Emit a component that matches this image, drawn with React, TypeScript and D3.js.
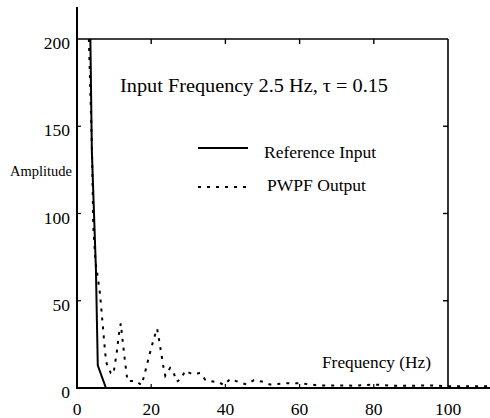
import React from "react";
import * as d3 from "d3";

const xTicks = [0, 20, 40, 60, 80, 100];
const yTicks = [0, 50, 100, 150, 200];

const refFreq = [3.6, 4.0, 5.1, 5.6, 7.8, 51.5];
const refAmp = [200, 136, 68, 13, 0, 0];

const pwpfFreq = [3.2, 4.0, 4.4, 5.0, 5.5, 6.2, 6.9, 7.6, 8.0, 9.1, 9.8, 10.7, 11.3, 11.8, 12.3, 12.9, 13.6, 15.8, 17.4, 18.1, 19.4, 20.8, 21.6, 22.4, 23.3, 23.8, 25.1, 26, 26.9, 28.2, 29.1, 31, 33.2, 34.6, 36.3, 38.1, 39.6, 41.3, 43.6, 45.7, 47.7, 49.8, 52, 56.5, 60.1, 65, 70, 75, 80, 85, 90, 95, 100, 105, 111];
const pwpfAmp = [200, 140, 92, 72, 65, 54, 37, 20, 14, 8.6, 8, 20, 31, 37, 27, 16, 4, 4, 1.7, 7, 18, 29, 34, 24, 12, 7, 11.5, 9, 3.6, 5.5, 9.9, 8, 8.6, 4.6, 3.8, 3.4, 1.7, 5.2, 3.4, 2, 4.5, 3.7, 2, 2.7, 2.7, 1.5, 1.5, 1.3, 2, 1.3, 1.3, 1.5, 1, 1, 1];

const titleText = "Input Frequency 2.5 Hz, \u03c4 = 0.15";
const legendLabels = ["Reference Input", "PWPF Output"];
const xLabel = "Frequency (Hz)";
const yLabel = "Amplitude";

const FONT = "'Liberation Serif', 'Times New Roman', serif";

export default function App() {
  const x = d3.scaleLinear().domain([0, 100]).range([77, 448]);
  const y = d3.scaleLinear().domain([0, 200]).range([388, 39]);
  const line = d3
    .line<[number, number]>()
    .x((d) => x(d[0]))
    .y((d) => y(d[1]));
  const refData: [number, number][] = refFreq.map((f, i) => [f, refAmp[i]]);
  const pwpfData: [number, number][] = pwpfFreq.map((f, i) => [f, pwpfAmp[i]]);

  return (
    <svg
      width={490}
      height={418}
      style={{ position: "absolute", left: 0, top: 0, background: "#fff" }}
      fontFamily={FONT}
    >
      <rect x={0} y={0} width={490} height={418} fill="#fff" />
      {/* frame top and right */}
      <line x1={x(0)} x2={x(100)} y1={y(200)} y2={y(200)} stroke="#000" strokeWidth={1.6} />
      <line x1={x(100)} x2={x(100)} y1={y(200)} y2={y(0)} stroke="#000" strokeWidth={1.6} />
      {xTicks.slice(1, 5).map((t) => (
        <line key={"tt" + t} x1={x(t)} x2={x(t)} y1={y(200)} y2={y(200) + 5} stroke="#000" strokeWidth={1.4} />
      ))}
      {yTicks.slice(1, 4).map((t) => (
        <line key={"rt" + t} x1={x(100)} x2={x(100) - 5} y1={y(t)} y2={y(t)} stroke="#000" strokeWidth={1.4} />
      ))}
      {/* series */}
      <path d={line(pwpfData) || ""} fill="none" stroke="#000" strokeWidth={2} strokeDasharray="3,6" />
      <path d={line(refData) || ""} fill="none" stroke="#000" strokeWidth={2} />
      {/* axes */}
      <line x1={x(0)} x2={x(0)} y1={7} y2={y(0) + 1} stroke="#000" strokeWidth={2} />
      <line x1={x(0)} x2={490} y1={y(0)} y2={y(0)} stroke="#000" strokeWidth={2} />
      {yTicks.slice(1, 4).map((t) => (
        <line key={"lt" + t} x1={x(0)} x2={x(0) + 4} y1={y(t)} y2={y(t)} stroke="#000" strokeWidth={1.2} />
      ))}
      {xTicks.slice(1, 5).map((t) => (
        <line key={"bt" + t} x1={x(t)} x2={x(t)} y1={y(0)} y2={y(0) - 4} stroke="#000" strokeWidth={1.2} />
      ))}
      {/* tick labels */}
      {yTicks.map((t) => (
        <text key={"yl" + t} x={70} y={y(t) + 10} textAnchor="end" fontSize={17.5}>
          {t}
        </text>
      ))}
      {xTicks.map((t) => (
        <text key={"xl" + t} x={x(t)} y={415} textAnchor="middle" fontSize={17.5}>
          {t}
        </text>
      ))}
      {/* labels */}
      <text x={120} y={92} fontSize={19} textLength={268} lengthAdjust="spacingAndGlyphs">
        {titleText}
      </text>
      <text x={10} y={176} fontSize={14.5} textLength={62} lengthAdjust="spacingAndGlyphs">
        {yLabel}
      </text>
      <text x={322} y={368} fontSize={17} textLength={109} lengthAdjust="spacingAndGlyphs">
        {xLabel}
      </text>
      {/* legend */}
      <line x1={198} x2={248} y1={148} y2={148} stroke="#000" strokeWidth={2} />
      <text x={264} y={158} fontSize={16.5} textLength={112} lengthAdjust="spacingAndGlyphs">
        {legendLabels[0]}
      </text>
      <line x1={198} x2={248} y1={187} y2={187} stroke="#000" strokeWidth={2} strokeDasharray="3,6" />
      <text x={267} y={191} fontSize={16.5} textLength={99} lengthAdjust="spacingAndGlyphs">
        {legendLabels[1]}
      </text>
    </svg>
  );
}
